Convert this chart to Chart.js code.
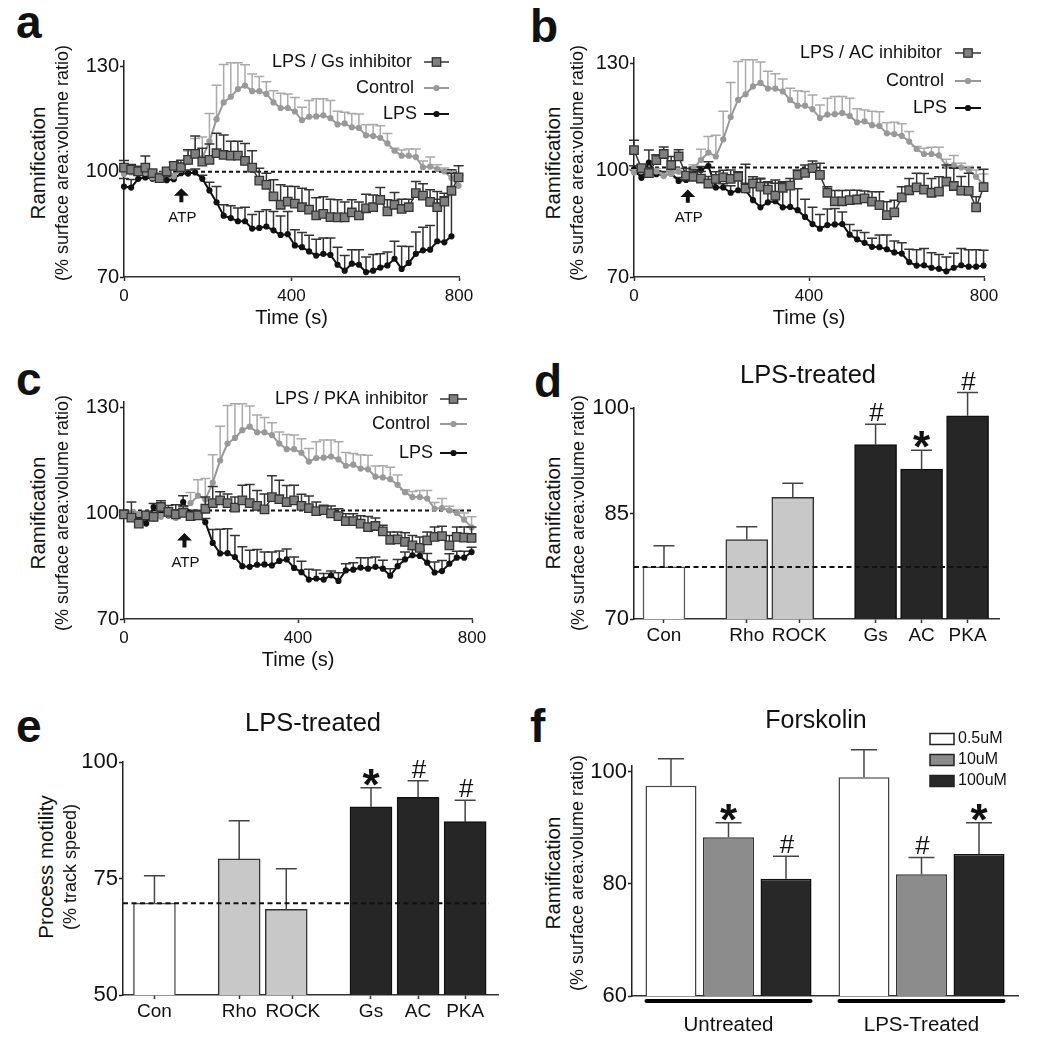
<!DOCTYPE html>
<html>
<head>
<meta charset="utf-8">
<title>Ramification panels</title>
<script src="https://cdn.jsdelivr.net/npm/chart.js@4"></script>
<style>
  html, body { margin: 0; padding: 0; background: #fff; }
  #page { position: relative; width: 1045px; height: 1050px; overflow: hidden; }
  canvas { position: absolute; }
  .lbl { position: absolute; white-space: nowrap; color: #111; font-family: "Liberation Sans", Arial, sans-serif; line-height: 1; }
</style>
</head>
<body>
<div id="page"></div>
<script>
// time axis shared by panels a, b, c
const times = [0,17,34,51,68,85,102,119,136,153,170,187,204,221,238,255,272,289,306,323,340,357,374,391,408,425,442,459,476,493,510,527,544,561,578,595,612,629,646,663,680,697,714,731,748,765,782,799];
const timeTicks = [0, 400, 800];
const ramTicks = [70, 100, 130];

const controlValues = [99.4,99.8,99.8,99.7,98.4,99,99.6,98.7,100.6,102.9,105,103.9,108.7,115,119.8,121.4,123.6,124.6,123,123,122.2,119.8,118.2,118.2,117.2,114.7,115.7,115.8,116.1,115.3,113.5,113.8,112.7,112.5,110.4,110.2,109.7,108.1,106,104.6,104.6,104.2,101.3,101.5,100.8,100.1,98.2,96];
const controlErrors = [0.8,1,0.5,0.8,0.8,0.8,1,0.8,1,3,4.5,6,7.9,9.7,10.8,9.7,7.5,5.9,4.9,4.2,3.5,3.3,4.2,4,4,3.7,4.6,5,4.7,5,3.8,3.2,3.9,4,3,3.3,3.4,2.8,0.7,1.6,1.9,2.3,1.8,2.7,1.2,1,1.9,3];

// panel a
const aLpsValues = [95.8,95.5,98,98.4,98,97.7,97.6,97.9,99.6,99.5,99.8,98,94.7,91.3,87.5,86.8,85.9,85.9,83.8,84,84.4,83.3,82,82.2,79,78.5,77.3,76.1,76.6,76.3,73.5,71.8,73.8,73.5,71.4,71.8,72.7,73.3,75.2,72.3,74,76.6,77.6,77.8,80.2,79.9,81.6];
const aLpsErrors = [2.3,2.3,1,1,1,1,1,1,1,1,1,1,2.3,4.5,3.1,3.5,3.8,4,4,4.7,4.75,5.4,5.4,6.5,4.5,4.2,4.6,4.7,4.5,4.8,5,4.3,4,4.3,4.3,4.6,3.9,3.8,5,6.5,4.7,6.2,6.6,6.9,12,13,19];
const aGsValues = [101.2,100.6,100.1,101.2,99.6,98.2,100.1,101.7,101.3,103.4,105.1,102.9,103.4,105.3,104.8,104.6,104.6,103.1,101.2,97.5,96.3,93,90.6,91.5,90.9,89.9,89.2,87.6,88,87.1,87,87,88.4,87.6,89.6,89.9,92,88.7,90.6,89.4,89.9,93.9,93.2,91.4,89.9,91.5,94.6,98.4];
const aGsErrors = [2,1.5,1.5,3.3,1,1,1,1,2,2.9,5.1,3.8,4.5,5.7,5.7,4.1,4.1,5,4.8,3.5,3.3,4.7,5.7,4.4,4.9,5.4,5.7,5,4.9,5.1,5,4.4,3.6,3.8,4,3.5,3.5,3.3,3.5,2.8,2.3,3.3,3.4,3.5,4.5,2.4,5,3.3];

// panel b
const bLpsValues = [100.3,97.9,102.2,98.9,98.7,99.2,97,97.3,99.9,100.1,101.2,95.2,95.2,93.7,94.4,94.4,91.6,89.6,91,91.3,89.6,89.7,88.8,86.9,84.9,83.6,84.6,84.8,84.9,81.9,80.6,79.6,78.5,78.4,77.8,76.9,76.6,74.2,73.2,73.3,72.6,72.3,71.6,72.6,73.3,72.9,72.9,73.2];
const bLpsErrors = [1,1,3.5,1,1,1,1,1,1,1,1.2,1.5,1,2,3,2,4.5,8,5.5,6,7,6.5,6,5,4.7,4,4.5,4.5,3.4,2.9,2.5,2.9,2.4,3.4,4,3.2,3,3.6,4.5,4.7,4.2,4,4,4.1,4.7,4.8,4.8,4.3];
const bAcValues = [105.7,100.6,99.2,102.9,104.6,101.5,103.9,98.5,98.2,97.7,96.3,97.6,98,97.6,98.2,94.9,96.3,95.4,94.6,92.9,95.1,95.7,98.7,99.3,100.6,98.7,93.7,91.3,91.3,91.6,91.8,92.1,91.2,90.2,87.4,88.2,92.4,94.4,95.2,94.6,93.7,94,96.8,95.6,94.3,94.2,89.6,95.3];
const bAcErrors = [2.8,1,1.5,1.5,2,2.4,1.9,2,2,2,2,2,2,2.5,1.4,6.8,1.9,2.4,2.2,3.5,1.7,2,1.4,2.2,2,3.3,1.7,3,3,2.8,2.6,2.1,2.8,3.8,3.8,3.4,3,3.3,4,4.5,4,4.2,4.7,5,4,5,3,5];

// panel c
const cLpsValues = [99.9,99.4,98.5,97.1,101.8,100.7,99.4,99.9,103.2,99.9,99.4,97.5,91.6,88.6,88.7,87.6,85,84.8,85.4,85.5,85.2,86.5,86.9,84.5,83.3,81.2,81.5,81.2,82.4,80.8,83.8,84,84.6,84.3,84.8,84.3,82.3,85,86.9,88.1,87.9,86,83.2,83.6,85.7,87.4,87.4,89];
const cLpsErrors = [1,1,1,1,1,1,1,1,1.8,1,1,1,3.8,6.9,6.9,6.1,5.5,4.7,4.3,3.5,3.8,2.8,3,3.1,3.1,2.9,2.4,1.7,1.2,2.3,1.9,2,2.8,3.1,2.8,2.4,2,1.9,2.1,1.6,1.6,2.6,3,3,2.8,1.8,1.8,1.4];
const cPkaValues = [99.7,98.8,97.1,99.4,99,101.8,100.4,99.7,100.1,99.2,99.4,101.3,102.9,103.7,102.9,101.6,103.7,102.9,102.1,101.1,104.6,104,103.2,103.7,102.1,101.5,100.6,100.9,100,99.2,97.8,97.8,97.1,96.1,96.4,94.9,92.5,92.6,91.9,90.9,90.2,92.3,93.3,93.5,90.9,93.3,93.1,93];
const cPkaErrors = [1,4.4,1.5,1,1,1.8,1.8,2.7,2,1,1.5,3.3,4.7,2.4,2.6,3,4.3,5.3,4.4,4.4,6.1,5.4,4.7,4.3,3.3,3.4,2.6,1.4,2.1,2.1,2.1,2.1,2.2,3,2.3,1.7,2.2,2.1,2.6,2.8,3.1,2.4,2.8,2.8,2.8,2.8,3,3.1];

// panels d and e
const barNames = ['Con', 'Rho', 'ROCK', 'Gs', 'AC', 'PKA'];
const barSlots = [0, 1.8, 2.8, 4.6, 5.6, 6.6];
const barTickSlots = [0, 1.8, 2.94, 4.6, 5.6, 6.6];
const dTicks = [70, 85, 100];
const dValues = [77.4, 81.3, 87.3, 94.8, 91.3, 98.9];
const dErrors = [3, 1.8, 2, 2.9, 2.7, 3.3];
const dMarks = ['', '', '', '#', '*', '#'];
const eTicks = [50, 75, 100];
const eValues = [69.7, 79.2, 68.4, 90.4, 92.4, 87.2];
const eErrors = [5.9, 8.2, 8.7, 4.1, 3.6, 4.6];
const eMarks = ['', '', '', '*', '#', '#'];

// panel f
const fGroups = ['Untreated', 'LPS-Treated'];
const fTicks = [60, 80, 100];
const fDoses = ['0.5uM', '10uM', '100uM'];
const fLowValues = [97.5, 99];
const fLowErrors = [4.8, 4.9];
const fMidValues = [88.3, 81.7];
const fMidErrors = [2.6, 3];
const fHighValues = [80.9, 85.3];
const fHighErrors = [4, 5.6];
const fMarks = [['', ''], ['*', '#'], ['#', '*']];

const page = document.getElementById('page');
const fontName = '"Liberation Sans", Arial, sans-serif';
Chart.defaults.font.family = fontName;
Chart.defaults.color = '#111';
Chart.defaults.animation = false;
Chart.defaults.plugins.legend.display = false;
Chart.defaults.plugins.tooltip.enabled = false;

const PAD_TOP = 40, PAD_RIGHT = 25, GUT_LEFT = 62, GUT_BOTTOM = 53;

function label(text, x, y, size, opts) {
    opts = opts || {};
    const el = document.createElement('div');
    el.className = 'lbl';
    el.textContent = text;
    el.style.left = x + 'px';
    el.style.top = y + 'px';
    el.style.fontSize = size + 'px';
    if (opts.bold) el.style.fontWeight = 'bold';
    let t = 'translate(-50%,-50%)';
    if (opts.left) t = 'translate(0,-50%)';
    if (opts.rot) t += ' rotate(-90deg)';
    el.style.transform = t;
    page.appendChild(el);
}

function makeCanvas(box) {
    const c = document.createElement('canvas');
    c.width = GUT_LEFT + (box.r - box.l) + PAD_RIGHT;
    c.height = PAD_TOP + (box.b - box.t) + GUT_BOTTOM;
    c.style.left = (box.l - GUT_LEFT) + 'px';
    c.style.top = (box.t - PAD_TOP) + 'px';
    c.style.width = c.width + 'px';
    c.style.height = c.height + 'px';
    page.appendChild(c);
    return c;
}

// upper error whiskers, drawn just under each dataset
const whiskers = {
    id: 'whiskers',
    beforeDatasetDraw(chart, args) {
        const ds = chart.data.datasets[args.index];
        if (!ds.errorUp) return;
        const ctx = chart.ctx, y = chart.scales.y;
        ctx.save();
        ctx.strokeStyle = ds.errorColor;
        ctx.lineWidth = ds.errorWidth || 1.5;
        args.meta.data.forEach((p, i) => {
            const top = y.getPixelForValue(ds.data[i].y + ds.errorUp[i]);
            ctx.beginPath();
            ctx.moveTo(p.x, y.getPixelForValue(ds.data[i].y));
            ctx.lineTo(p.x, top);
            ctx.moveTo(p.x - ds.capHalf, top);
            ctx.lineTo(p.x + ds.capHalf, top);
            ctx.stroke();
        });
        ctx.restore();
    }
};

// the * and # above the whiskers
const sigMarks = {
    id: 'sigMarks',
    afterDatasetsDraw(chart) {
        const ctx = chart.ctx, y = chart.scales.y;
        ctx.save();
        ctx.textAlign = 'center';
        ctx.fillStyle = '#111';
        chart.data.datasets.forEach((ds, n) => {
            if (!ds.marks) return;
            chart.getDatasetMeta(n).data.forEach((p, i) => {
                const top = y.getPixelForValue(ds.data[i].y + ds.errorUp[i]);
                if (ds.marks[i] === '#') {
                    ctx.font = '26px ' + fontName;
                    ctx.fillText('#', p.x + 1, top - 3);
                } else if (ds.marks[i] === '*') {
                    ctx.font = 'bold 44px ' + fontName;
                    ctx.fillText('*', p.x, top + 12);
                }
            });
        });
        ctx.restore();
    }
};

// legend with text on the left and the line + marker sample on the right
const lineKey = {
    id: 'lineKey',
    afterDraw(chart) {
        const k = chart.options.plugins.lineKey;
        const ox = parseFloat(chart.canvas.style.left), oy = parseFloat(chart.canvas.style.top);
        const ctx = chart.ctx;
        const named = chart.data.datasets.filter(d => d.label);
        ctx.save();
        named.forEach((ds, i) => {
            const y = k.rows[i] - oy;
            ctx.fillStyle = '#111';
            ctx.font = '18px ' + fontName;
            ctx.textAlign = 'right';
            ctx.textBaseline = 'middle';
            ctx.fillText(ds.label, k.textRight[i] - ox, y);
            const x0 = k.keyLeft - ox, x1 = k.keyRight - ox, mid = (x0 + x1) / 2;
            ctx.strokeStyle = ds.borderColor;
            ctx.lineWidth = ds.borderWidth;
            ctx.beginPath();
            ctx.moveTo(x0, y);
            ctx.lineTo(x1, y);
            ctx.stroke();
            ctx.fillStyle = ds.pointBackgroundColor;
            ctx.strokeStyle = ds.pointBorderColor;
            ctx.lineWidth = ds.pointBorderWidth;
            if (ds.pointStyle === 'rect') {
                ctx.fillRect(mid - 4.2, y - 4.2, 8.4, 8.4);
                ctx.strokeRect(mid - 4.2, y - 4.2, 8.4, 8.4);
            } else {
                ctx.beginPath();
                ctx.arc(mid, y, ds.pointRadius, 0, Math.PI * 2);
                ctx.fill();
            }
        });
        ctx.restore();
    }
};

// the ATP arrow and its caption, anchored through the scales
const atpArrow = {
    id: 'atpArrow',
    afterDatasetsDraw(chart) {
        const a = chart.options.plugins.atpArrow;
        const sx = chart.scales.x, sy = chart.scales.y, ctx = chart.ctx;
        const x = sx.getPixelForValue(a.time), tip = sy.getPixelForValue(a.tip), base = sy.getPixelForValue(a.base);
        ctx.save();
        ctx.fillStyle = '#111';
        ctx.beginPath();
        ctx.moveTo(x, tip);
        ctx.lineTo(x + 7.5, tip + 7.5);
        ctx.lineTo(x + 2, tip + 7.5);
        ctx.lineTo(x + 2, base);
        ctx.lineTo(x - 2, base);
        ctx.lineTo(x - 2, tip + 7.5);
        ctx.lineTo(x - 7.5, tip + 7.5);
        ctx.closePath();
        ctx.fill();
        ctx.font = '15px ' + fontName;
        ctx.textAlign = 'center';
        ctx.textBaseline = 'middle';
        ctx.fillText('ATP', x + 1, sy.getPixelForValue(a.text));
        ctx.restore();
    }
};

function toPoints(xs, ys) {
    return ys.map((v, i) => ({ x: xs[i], y: v }));
}

function axisBits(color) {
    return {
        border: { display: true, color: color, width: 1.5 },
        grid: { offset: false, drawOnChartArea: false, drawTicks: true, tickLength: 4, tickColor: color, tickWidth: 1.5 }
    };
}

function timeChart(box, squares, lps, dashLevel, key, atp) {
    const styleLine = (ds, color, errColor) => Object.assign(ds, {
        borderColor: color, borderWidth: 2, pointBackgroundColor: color, pointBorderColor: color,
        pointBorderWidth: 0, pointRadius: 3.1, pointStyle: 'circle', errorColor: errColor, capHalf: 5, clip: false
    });
    new Chart(makeCanvas(box), {
        type: 'line',
        data: {
            datasets: [
                Object.assign(styleLine({ label: squares.name, data: toPoints(times, squares.values), errorUp: squares.errors }, '#333', '#333'), {
                    pointStyle: 'rect', pointRadius: 6, pointBackgroundColor: '#808080', pointBorderColor: '#333', pointBorderWidth: 1.3, borderWidth: 1.5
                }),
                styleLine({ label: 'Control', data: toPoints(times, controlValues), errorUp: controlErrors }, '#999', '#aaa'),
                styleLine({ label: 'LPS', data: toPoints(times, lps.values), errorUp: lps.errors }, '#111', '#333'),
                {
                    data: [{ x: 0, y: dashLevel }, { x: 800, y: dashLevel }],
                    borderColor: '#111', borderWidth: 2, borderDash: [4, 3], pointRadius: 0, clip: false
                }
            ]
        },
        options: {
            responsive: false,
            devicePixelRatio: 1,
            layout: { padding: { top: PAD_TOP, right: PAD_RIGHT, left: 0, bottom: 0 } },
            scales: {
                x: Object.assign(axisBits('#333'), {
                    type: 'linear', min: 0, max: 800,
                    afterBuildTicks(s) { s.ticks = timeTicks.map(v => ({ value: v })); },
                    afterFit(s) { s.height = GUT_BOTTOM; },
                    ticks: { font: { size: 17 }, padding: 5, maxRotation: 0, autoSkip: false },
                    title: { display: true, text: 'Time (s)', font: { size: 20 }, padding: 0 }
                }),
                y: Object.assign(axisBits('#222'), {
                    min: 70, max: 131.6,
                    afterBuildTicks(s) { s.ticks = ramTicks.map(v => ({ value: v })); },
                    afterFit(s) { s.width = GUT_LEFT; },
                    ticks: { font: { size: 20 }, padding: 1 }
                })
            },
            plugins: { lineKey: key, atpArrow: atp }
        },
        plugins: [whiskers, lineKey, atpArrow]
    });
}

function treatmentChart(box, ticks, values, errors, marks, colMin, colMax, dashLevel, dashEnd) {
    const fills = ['#fff', '#c8c8c8', '#c8c8c8', '#262626', '#262626', '#262626'];
    const edges = ['#555', '#333', '#333', '#111', '#111', '#111'];
    new Chart(makeCanvas(box), {
        type: 'bar',
        data: {
            datasets: [
                {
                    type: 'line',
                    data: [{ x: colMin, y: dashLevel }, { x: dashEnd, y: dashLevel }],
                    borderColor: '#111', borderWidth: 2, borderDash: [5, 3.5], pointRadius: 0, clip: false
                },
                {
                    data: toPoints(barSlots, values),
                    backgroundColor: fills, borderColor: edges, borderWidth: 1.5, barThickness: 42,
                    errorUp: errors, errorColor: '#444', capHalf: 10.5, marks: marks
                }
            ]
        },
        options: {
            responsive: false,
            devicePixelRatio: 1,
            layout: { padding: { top: PAD_TOP, right: PAD_RIGHT, left: 0, bottom: 0 } },
            scales: {
                x: Object.assign(axisBits('#333'), {
                    type: 'linear', min: colMin, max: colMax, offset: false,
                    afterBuildTicks(s) { s.ticks = barTickSlots.map(v => ({ value: v })); },
                    afterFit(s) { s.height = GUT_BOTTOM; },
                    ticks: { font: { size: 19 }, padding: 1, maxRotation: 0, autoSkip: false, callback: (v, i) => barNames[i] }
                }),
                y: Object.assign(axisBits('#222'), {
                    min: ticks[0], max: ticks[2],
                    afterBuildTicks(s) { s.ticks = ticks.map(v => ({ value: v })); },
                    afterFit(s) { s.width = GUT_LEFT; },
                    ticks: { font: { size: 22 }, padding: 1 }
                })
            }
        },
        plugins: [whiskers, sigMarks]
    });
}

const boxA = { l: 124, r: 459, t: 61, b: 277 };
const boxB = { l: 634, r: 984, t: 58, b: 277 };
const boxC = { l: 124, r: 472, t: 402, b: 619 };
const boxD = { l: 634, r: 999, t: 408, b: 619 };
const boxE = { l: 123, r: 498, t: 762, b: 995 };
const boxF = { l: 632, r: 1018, t: 766, b: 996 };

timeChart(boxA, { name: 'LPS / Gs inhibitor', values: aGsValues, errors: aGsErrors }, { values: aLpsValues, errors: aLpsErrors }, 100,
    { rows: [62, 88, 114], textRight: [412, 414, 417], keyLeft: 424, keyRight: 449 },
    { time: 137, tip: 95.3, base: 91.3, text: 86.8 });
timeChart(boxB, { name: 'LPS / AC inhibitor', values: bAcValues, errors: bAcErrors }, { values: bLpsValues, errors: bLpsErrors }, 100.8,
    { rows: [53, 81, 108], textRight: [942, 944, 947], keyLeft: 955, keyRight: 981 },
    { time: 123, tip: 94.6, base: 90.9, text: 86.5 });
timeChart(boxC, { name: 'LPS / PKA inhibitor', values: cPkaValues, errors: cPkaErrors }, { values: cLpsValues, errors: cLpsErrors }, 100.8,
    { rows: [399, 424, 453], textRight: [428, 430, 433], keyLeft: 440, keyRight: 467 },
    { time: 139, tip: 94.4, base: 90.3, text: 85.9 });

treatmentChart(boxD, dTicks, dValues, dErrors, dMarks, -0.652, 7.283, 77.4, 7.05);
treatmentChart(boxE, eTicks, eValues, eErrors, eMarks, -0.668, 7.298, 69.7, 7.1);

// panel f: grouped bars, dose key and the thick group underlines
const doseKey = {
    id: 'doseKey',
    afterDraw(chart) {
        const ctx = chart.ctx, ox = parseFloat(chart.canvas.style.left), oy = parseFloat(chart.canvas.style.top);
        const rows = [739, 760, 781];
        ctx.save();
        chart.data.datasets.forEach((ds, i) => {
            const y = rows[i] - oy;
            ctx.fillStyle = ds.backgroundColor;
            ctx.strokeStyle = '#222';
            ctx.lineWidth = 1.5;
            ctx.fillRect(930 - ox, y - 5.5, 24, 11);
            ctx.strokeRect(930 - ox, y - 5.5, 24, 11);
            ctx.fillStyle = '#111';
            ctx.font = '16px ' + fontName;
            ctx.textBaseline = 'middle';
            ctx.fillText(ds.label, 958 - ox, y);
        });
        ctx.restore();
    }
};
const groupLines = {
    id: 'groupLines',
    afterDraw(chart) {
        const ctx = chart.ctx, x = chart.scales.x, y = chart.chartArea.bottom + 5;
        ctx.save();
        ctx.strokeStyle = '#000';
        ctx.lineWidth = 4;
        ctx.lineCap = 'round';
        fGroups.forEach((g, i) => {
            const c = x.getPixelForValue(i);
            ctx.beginPath();
            ctx.moveTo(c - 82, y);
            ctx.lineTo(c + 82, y);
            ctx.stroke();
        });
        ctx.restore();
    }
};
const fBarStyle = {
    borderWidth: 1.5, categoryPercentage: 0.894, barPercentage: 0.887,
    errorColor: '#444', capHalf: 13
};
new Chart(makeCanvas(boxF), {
    type: 'bar',
    data: {
        labels: fGroups,
        datasets: [
            Object.assign({ label: fDoses[0], data: toPoints(fGroups, fLowValues), errorUp: fLowErrors, marks: fMarks[0], backgroundColor: '#fff', borderColor: '#444' }, fBarStyle),
            Object.assign({ label: fDoses[1], data: toPoints(fGroups, fMidValues), errorUp: fMidErrors, marks: fMarks[1], backgroundColor: '#8c8c8c', borderColor: '#333' }, fBarStyle),
            Object.assign({ label: fDoses[2], data: toPoints(fGroups, fHighValues), errorUp: fHighErrors, marks: fMarks[2], backgroundColor: '#282828', borderColor: '#111' }, fBarStyle)
        ]
    },
    options: {
        responsive: false,
        devicePixelRatio: 1,
        layout: { padding: { top: PAD_TOP, right: PAD_RIGHT, left: 0, bottom: 0 } },
        scales: {
            x: {
                border: { display: true, color: '#333', width: 1.5 },
                grid: { display: false },
                afterFit(s) { s.height = GUT_BOTTOM; },
                ticks: { font: { size: 20.5 }, padding: 9, maxRotation: 0 }
            },
            y: Object.assign(axisBits('#222'), {
                min: 60, max: 101,
                afterBuildTicks(s) { s.ticks = fTicks.map(v => ({ value: v })); },
                afterFit(s) { s.width = GUT_LEFT; },
                ticks: { font: { size: 22 }, padding: 1 }
            })
        }
    },
    plugins: [whiskers, sigMarks, doseKey, groupLines]
});

// panel letters, titles, rotated axis labels
[['a', 16, 22], ['b', 530, 26], ['c', 16, 379], ['d', 534, 381], ['e', 16, 726], ['f', 530, 726]].forEach(p => {
    label(p[0], p[1], p[2], 46, { bold: true, left: true });
});
label('LPS-treated', 808, 375, 25.5);
label('LPS-treated', 313, 723, 25.5);
label('Forskolin', 816, 719, 25);
[[38, 62, 163], [553, 577, 163], [38, 62, 513], [553, 578, 513], [553, 577, 873]].forEach(p => {
    label('Ramification', p[0], p[2], 20.5, { rot: true });
    label('(% surface area:volume ratio)', p[1], p[2], 18, { rot: true });
});
label('Process motility', 46, 867, 20.5, { rot: true });
label('(% track speed)', 70, 867, 18, { rot: true });
</script>
</body>
</html>
